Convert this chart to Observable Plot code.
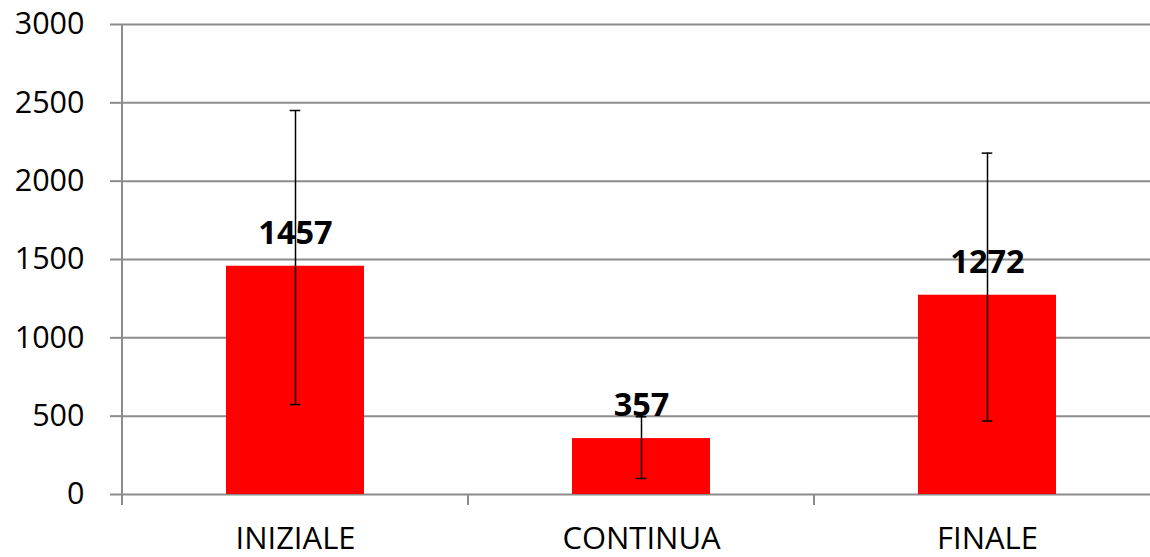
<!DOCTYPE html>
<html><head><meta charset="utf-8">
<script src="https://cdn.jsdelivr.net/npm/d3@7"></script>
<script src="https://cdn.jsdelivr.net/npm/@observablehq/plot@0.6"></script>
<style>body{margin:0;background:#fff} svg{display:block}</style>
</head><body><div id="chart"></div>
<script>
const categories = ["INIZIALE", "CONTINUA", "FINALE"];
const values = [1457, 357, 1272];
const errorHigh = [2451, 496, 2179];
const errorLow = [574, 102, 469];
const yTicks = [0, 500, 1000, 1500, 2000, 2500, 3000];

const data = categories.map((c, i) => ({cat: c, value: values[i], hi: errorHigh[i], lo: errorLow[i]}));
const grey = "#8c8c8c";
const font = "'Open Sans', sans-serif";

const chart = Plot.plot({
  width: 1150, height: 557,
  marginLeft: 122, marginRight: -10, marginTop: 24, marginBottom: 63,
  style: {fontFamily: font, fontSize: "30px", color: "#000", background: "#fff"},
  x: {domain: categories, paddingInner: 0.6, paddingOuter: 0.3, label: null, axis: null},
  y: {domain: [0, 3000], label: null, axis: null},
  marks: [
    Plot.ruleY(yTicks, {stroke: grey, strokeWidth: 2}),
    Plot.axisY({ticks: yTicks, tickFormat: d => String(d), tickSize: 12, tickPadding: 26, stroke: grey, strokeWidth: 2, fill: "#000", fontSize: 30.5, fontFamily: font, label: null}),
    Plot.barY(data, {x: "cat", y: "value", fill: "#ff0000"}),
    Plot.ruleX(data, {x: "cat", y1: "lo", y2: "hi", stroke: "#000", strokeWidth: 1.5}),
    Plot.tickY(data, {x: "cat", y: "hi", stroke: "#000", strokeWidth: 1.5, insetLeft: 63.7, insetRight: 63.7}),
    Plot.tickY(data, {x: "cat", y: "lo", stroke: "#000", strokeWidth: 1.5, insetLeft: 63.7, insetRight: 63.7}),
    Plot.text(data, {x: "cat", y: "value", text: d => String(d.value), fontWeight: "bold", fontSize: 32.5, fontFamily: font, dy: -33, fill: "#000"}),
    Plot.axisX({tickSize: 0, tickPadding: 32, fill: "#000", fontSize: 31, fontFamily: font, label: null})
  ]
});

document.getElementById("chart").append(chart);

// axis line and category boundary ticks, placed through Plot's own scales
const sx = chart.scale("x"), sy = chart.scale("y");
const step = sx.step ?? (sx.range[1] - sx.range[0]) / (categories.length - sx.paddingInner + 2 * sx.paddingOuter);
const bw = sx.bandwidth;
const bounds = categories.map(c => sx.apply(c) - (step - bw) / 2);
bounds.push(bounds[bounds.length - 1] + step);
const y0 = sy.apply(0), yTop = sy.apply(3000);
const g = d3.select(chart).append("g").attr("stroke", grey).attr("stroke-width", 2);
g.append("line").attr("x1", bounds[0]).attr("x2", bounds[0]).attr("y1", yTop).attr("y2", y0);
g.selectAll("line.b").data(bounds).join("line").attr("class", "b")
  .attr("x1", d => d).attr("x2", d => d).attr("y1", y0).attr("y2", y0 + 11);
</script>
</body></html>
